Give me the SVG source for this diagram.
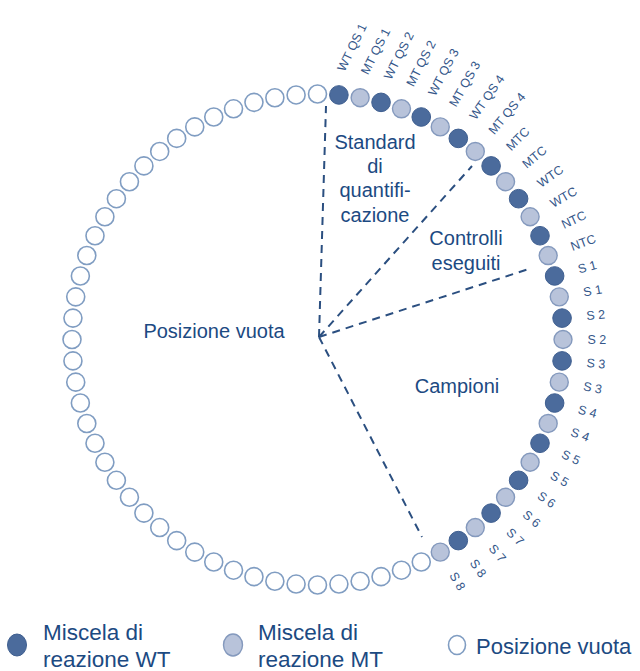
<svg xmlns="http://www.w3.org/2000/svg" width="640" height="671" viewBox="0 0 640 671">
<style>
.e{fill:#fff;stroke:#809dc2;stroke-width:1.6}
.w{fill:#4b6b9c;stroke:#3f5f90;stroke-width:1}
.m{fill:#b8c3da;stroke:#8499bd;stroke-width:1.4}
.lbl{font-family:"Liberation Sans",Arial,sans-serif;font-size:12.5px;fill:#35578a;dominant-baseline:central}
.t{font-family:"Liberation Sans",Arial,sans-serif;font-size:20px;fill:#1c4a82;text-anchor:middle}
.lg{font-family:"Liberation Sans",Arial,sans-serif;font-size:22.5px;fill:#1c4a82}
.d{stroke:#2b4f80;stroke-width:2;stroke-dasharray:8 6;fill:none}
</style>
<rect width="640" height="671" fill="#fff"/>
<g id="connectors">
<line class="d" x1="319" y1="337" x2="326" y2="106"/>
<line class="d" x1="319" y1="337" x2="472" y2="166"/>
<line class="d" x1="319" y1="337" x2="532" y2="268"/>
<line class="d" x1="319" y1="337" x2="422" y2="537"/>
</g>
<g id="empty-positions">
<circle class="e" r="9" cx="317.5" cy="94"/>
<circle class="e" r="9" cx="421.25" cy="562"/>
<circle class="e" r="9" cx="401.47" cy="570.19"/>
<circle class="e" r="9" cx="381.04" cy="576.64"/>
<circle class="e" r="9" cx="360.13" cy="581.27"/>
<circle class="e" r="9" cx="338.9" cy="584.06"/>
<circle class="e" r="9" cx="317.5" cy="585"/>
<circle class="e" r="9" cx="296.1" cy="584.06"/>
<circle class="e" r="9" cx="274.87" cy="581.27"/>
<circle class="e" r="9" cx="253.96" cy="576.64"/>
<circle class="e" r="9" cx="233.53" cy="570.19"/>
<circle class="e" r="9" cx="213.75" cy="562"/>
<circle class="e" r="9" cx="194.75" cy="552.11"/>
<circle class="e" r="9" cx="176.69" cy="540.6"/>
<circle class="e" r="9" cx="159.7" cy="527.56"/>
<circle class="e" r="9" cx="143.9" cy="513.1"/>
<circle class="e" r="9" cx="129.44" cy="497.3"/>
<circle class="e" r="9" cx="116.4" cy="480.31"/>
<circle class="e" r="9" cx="104.89" cy="462.25"/>
<circle class="e" r="9" cx="95" cy="443.25"/>
<circle class="e" r="9" cx="86.81" cy="423.47"/>
<circle class="e" r="9" cx="80.36" cy="403.04"/>
<circle class="e" r="9" cx="75.73" cy="382.13"/>
<circle class="e" r="9" cx="72.94" cy="360.9"/>
<circle class="e" r="9" cx="72" cy="339.5"/>
<circle class="e" r="9" cx="72.94" cy="318.1"/>
<circle class="e" r="9" cx="75.73" cy="296.87"/>
<circle class="e" r="9" cx="80.36" cy="275.96"/>
<circle class="e" r="9" cx="86.81" cy="255.53"/>
<circle class="e" r="9" cx="95" cy="235.75"/>
<circle class="e" r="9" cx="104.89" cy="216.75"/>
<circle class="e" r="9" cx="116.4" cy="198.69"/>
<circle class="e" r="9" cx="129.44" cy="181.7"/>
<circle class="e" r="9" cx="143.9" cy="165.9"/>
<circle class="e" r="9" cx="159.7" cy="151.44"/>
<circle class="e" r="9" cx="176.69" cy="138.4"/>
<circle class="e" r="9" cx="194.75" cy="126.89"/>
<circle class="e" r="9" cx="213.75" cy="117"/>
<circle class="e" r="9" cx="233.53" cy="108.81"/>
<circle class="e" r="9" cx="253.96" cy="102.36"/>
<circle class="e" r="9" cx="274.87" cy="97.73"/>
<circle class="e" r="9" cx="296.1" cy="94.94"/>
</g>
<g id="filled-positions">
<circle class="w" r="9.3" cx="338.9" cy="94.94"/>
<circle class="m" r="9" cx="360.13" cy="97.73"/>
<circle class="w" r="9.3" cx="381.04" cy="102.36"/>
<circle class="m" r="9" cx="401.47" cy="108.81"/>
<circle class="w" r="9.3" cx="421.25" cy="117"/>
<circle class="m" r="9" cx="440.25" cy="126.89"/>
<circle class="w" r="9.3" cx="458.31" cy="138.4"/>
<circle class="m" r="9" cx="475.3" cy="151.44"/>
<circle class="w" r="9.3" cx="491.1" cy="165.9"/>
<circle class="m" r="9" cx="505.56" cy="181.7"/>
<circle class="w" r="9.3" cx="518.6" cy="198.69"/>
<circle class="m" r="9" cx="530.11" cy="216.75"/>
<circle class="w" r="9.3" cx="540" cy="235.75"/>
<circle class="m" r="9" cx="548.19" cy="255.53"/>
<circle class="w" r="9.3" cx="554.64" cy="275.96"/>
<circle class="m" r="9" cx="559.27" cy="296.87"/>
<circle class="w" r="9.3" cx="562.06" cy="318.1"/>
<circle class="m" r="9" cx="563" cy="339.5"/>
<circle class="w" r="9.3" cx="562.06" cy="360.9"/>
<circle class="m" r="9" cx="559.27" cy="382.13"/>
<circle class="w" r="9.3" cx="554.64" cy="403.04"/>
<circle class="m" r="9" cx="548.19" cy="423.47"/>
<circle class="w" r="9.3" cx="540" cy="443.25"/>
<circle class="m" r="9" cx="530.11" cy="462.25"/>
<circle class="w" r="9.3" cx="518.6" cy="480.31"/>
<circle class="m" r="9" cx="505.56" cy="497.3"/>
<circle class="w" r="9.3" cx="491.1" cy="513.1"/>
<circle class="m" r="9" cx="475.3" cy="527.56"/>
<circle class="w" r="9.3" cx="458.31" cy="540.6"/>
<circle class="m" r="9" cx="440.25" cy="552.11"/>
</g>
<g id="position-labels">
<text class="lbl" x="341" y="70.5" transform="rotate(-64 341 70.5)">WT QS 1</text>
<text class="lbl" x="364.4" y="73.6" transform="rotate(-63 364.4 73.6)">MT QS 1</text>
<text class="lbl" x="387.4" y="78.7" transform="rotate(-63 387.4 78.7)">WT QS 2</text>
<text class="lbl" x="409.9" y="85.8" transform="rotate(-63 409.9 85.8)">MT QS 2</text>
<text class="lbl" x="431.6" y="94.8" transform="rotate(-62 431.6 94.8)">WT QS 3</text>
<text class="lbl" x="452.5" y="105.7" transform="rotate(-60 452.5 105.7)">MT QS 3</text>
<text class="lbl" x="472.4" y="118.3" transform="rotate(-55 472.4 118.3)">WT QS 4</text>
<text class="lbl" x="491.1" y="132.7" transform="rotate(-50 491.1 132.7)">MT QS 4</text>
<text class="lbl" x="508.4" y="148.6" transform="rotate(-45 508.4 148.6)">MTC</text>
<text class="lbl" x="524.3" y="166" transform="rotate(-40 524.3 166)">MTC</text>
<text class="lbl" x="538.7" y="184.6" transform="rotate(-35 538.7 184.6)">WTC</text>
<text class="lbl" x="551.3" y="204.5" transform="rotate(-30 551.3 204.5)">WTC</text>
<text class="lbl" x="562.2" y="225.4" transform="rotate(-25 562.2 225.4)">NTC</text>
<text class="lbl" x="571.2" y="247.2" transform="rotate(-20 571.2 247.2)">NTC</text>
<text class="lbl" x="578.3" y="269.6" transform="rotate(-15 578.3 269.6)">S 1</text>
<text class="lbl" x="583.4" y="292.6" transform="rotate(-10 583.4 292.6)">S 1</text>
<text class="lbl" x="586.5" y="316" transform="rotate(-5 586.5 316)">S 2</text>
<text class="lbl" x="587.5" y="339.5">S 2</text>
<text class="lbl" x="586.5" y="363" transform="rotate(5 586.5 363)">S 3</text>
<text class="lbl" x="583.4" y="386.4" transform="rotate(10 583.4 386.4)">S 3</text>
<text class="lbl" x="578.3" y="409.4" transform="rotate(15 578.3 409.4)">S 4</text>
<text class="lbl" x="571.2" y="431.8" transform="rotate(20 571.2 431.8)">S 4</text>
<text class="lbl" x="562.2" y="453.6" transform="rotate(25 562.2 453.6)">S 5</text>
<text class="lbl" x="551.3" y="474.5" transform="rotate(30 551.3 474.5)">S 5</text>
<text class="lbl" x="538.7" y="494.4" transform="rotate(35 538.7 494.4)">S 6</text>
<text class="lbl" x="524.3" y="513" transform="rotate(40 524.3 513)">S 6</text>
<text class="lbl" x="508.4" y="530.4" transform="rotate(45 508.4 530.4)">S 7</text>
<text class="lbl" x="491.1" y="546.3" transform="rotate(50 491.1 546.3)">S 7</text>
<text class="lbl" x="472.4" y="560.7" transform="rotate(55 472.4 560.7)">S 8</text>
<text class="lbl" x="452.5" y="573.3" transform="rotate(60 452.5 573.3)">S 8</text>
</g>
<g id="group-standard">
<text class="t" x="375" y="149">Standard</text>
<text class="t" x="375" y="173">di</text>
<text class="t" x="375" y="197">quantifi-</text>
<text class="t" x="375" y="222">cazione</text>
</g>
<g id="group-controlli">
<text class="t" x="466" y="245">Controlli</text>
<text class="t" x="466" y="270">eseguiti</text>
</g>
<g id="group-campioni">
<text class="t" x="457" y="393">Campioni</text>
</g>
<g id="group-vuota">
<text class="t" x="214" y="338">Posizione vuota</text>
</g>
<g id="legend">
<ellipse class="w" cx="17" cy="645" rx="9.5" ry="11"/>
<text class="lg" x="43" y="640">Miscela di</text>
<text class="lg" x="43" y="667">reazione WT</text>
<ellipse class="m" cx="233" cy="645" rx="9.5" ry="11"/>
<text class="lg" x="258" y="640">Miscela di</text>
<text class="lg" x="258" y="667">reazione MT</text>
<ellipse class="e" cx="457" cy="645" rx="8.5" ry="9.5"/>
<text class="lg" x="476" y="654" style="font-size:22px">Posizione vuota</text>
</g>
</svg>
